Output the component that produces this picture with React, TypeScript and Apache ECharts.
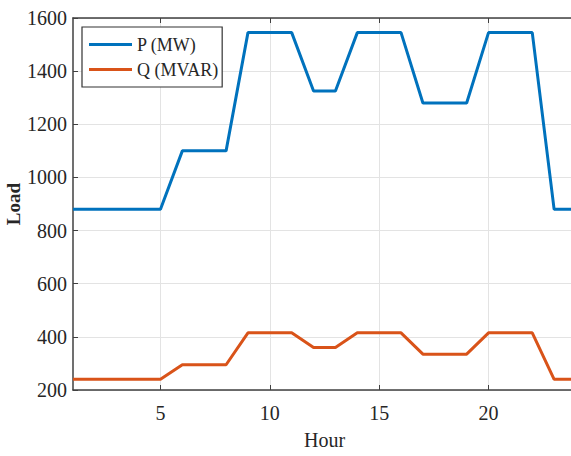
import React, { useEffect, useRef } from "react";
import * as echarts from "echarts";

const hours = [1, 2, 3, 4, 5, 6, 7, 8, 9, 10, 11, 12, 13, 14, 15, 16, 17, 18, 19, 20, 21, 22, 23, 24];
const pMW = [880, 880, 880, 880, 880, 1100, 1100, 1100, 1545, 1545, 1545, 1325, 1325, 1545, 1545, 1545, 1280, 1280, 1280, 1545, 1545, 1545, 880, 880];
const qMVAR = [240, 240, 240, 240, 240, 295, 295, 295, 415, 415, 415, 360, 360, 415, 415, 415, 335, 335, 335, 415, 415, 415, 240, 240];
const xTicks = [5, 10, 15, 20];
const seriesNames = ["P (MW)", "Q (MVAR)"];

const FONT = "Liberation Serif";

export default function App() {
  const ref = useRef<HTMLDivElement>(null);
  useEffect(() => {
    document.documentElement.style.overflow = "hidden";
    document.body.style.margin = "0";
    document.body.style.overflow = "hidden";
    const chart = echarts.init(ref.current!, null, { renderer: "svg" });
    const axisLine = { show: true, lineStyle: { color: "#404040", width: 1.5 } };
    const lbl = { fontFamily: FONT, fontSize: 20, color: "#262626", fontWeight: "normal" };
    chart.setOption({
      animation: false,
      backgroundColor: "#ffffff",
      textStyle: { fontFamily: FONT },
      grid: { left: 73, top: 18, width: 503, height: 372, show: false, containLabel: false, outerBoundsMode: "none" },
      legend: {
        orient: "vertical",
        left: 82,
        top: 27,
        data: seriesNames,
        icon: "rect",
        itemWidth: 43,
        itemHeight: 3,
        itemGap: 0,
        padding: [5, 4, 5, 7],
        borderColor: "#333333",
        borderWidth: 1.2,
        backgroundColor: "#ffffff",
        textStyle: { fontFamily: FONT, fontSize: 18, color: "#262626", lineHeight: 25 },
      },
      xAxis: [
        {
          type: "value",
          min: 1,
          max: 24,
          name: "Hour",
          nameLocation: "middle",
          nameGap: 40,
          nameMoveOverlap: false,
          nameTextStyle: { fontFamily: FONT, fontSize: 20, color: "#262626" },
          axisLine,
          axisTick: { show: true, inside: true, length: 5, customValues: xTicks, lineStyle: { color: "#404040" } },
          axisLabel: { ...lbl, customValues: xTicks, margin: 13, formatter: (v: number) => String(v) },
          splitLine: { show: true, lineStyle: { color: "#e3e3e3", width: 1 } },
        },
        {
          type: "value",
          min: 1,
          max: 24,
          position: "top",
          axisLine,
          axisTick: { show: true, inside: true, length: 5, customValues: xTicks, lineStyle: { color: "#404040" } },
          axisLabel: { show: false },
          splitLine: { show: false },
        },
      ],
      yAxis: {
        type: "value",
        min: 200,
        max: 1600,
        interval: 200,
        name: "Load",
        nameLocation: "middle",
        nameGap: 50,
        nameMoveOverlap: false,
        nameTextStyle: { fontFamily: FONT, fontSize: 19, fontWeight: "bold", color: "#262626" },
        axisLine,
        axisTick: { show: true, inside: true, length: 5, lineStyle: { color: "#404040" } },
        axisLabel: { ...lbl, margin: 6, formatter: (v: number) => String(v) },
        splitLine: { show: true, lineStyle: { color: "#e3e3e3", width: 1 } },
      },
      series: [
        {
          name: seriesNames[0],
          type: "line",
          data: hours.map((h, i) => [h, pMW[i]]),
          showSymbol: false,
          symbol: "none",
          lineStyle: { color: "#0072BD", width: 3 },
          itemStyle: { color: "#0072BD" },
        },
        {
          name: seriesNames[1],
          type: "line",
          data: hours.map((h, i) => [h, qMVAR[i]]),
          showSymbol: false,
          symbol: "none",
          lineStyle: { color: "#D95319", width: 3 },
          itemStyle: { color: "#D95319" },
        },
      ],
    });
    return () => chart.dispose();
  }, []);
  return <div ref={ref} style={{ position: "absolute", left: 0, top: 0, width: 571, height: 456 }} />;
}
